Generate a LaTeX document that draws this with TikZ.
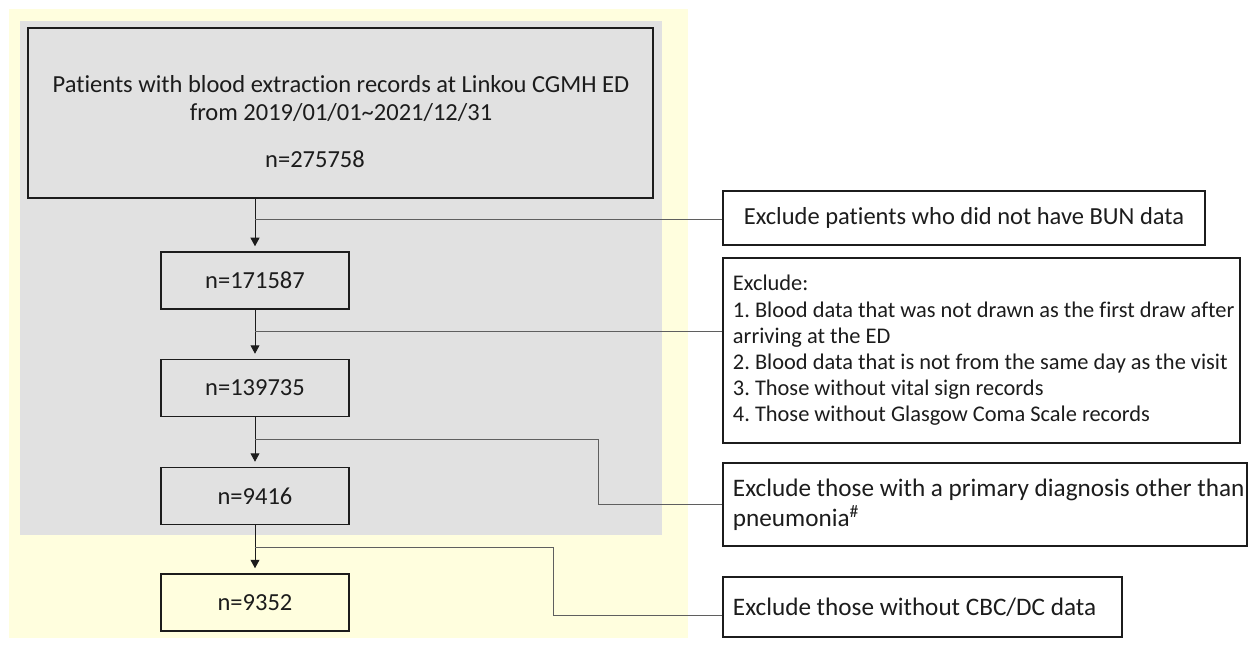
\documentclass[tikz,border=0pt]{standalone}
\usepackage{fontspec}
\setmainfont{Carlito}[Ligatures=NoCommon]
\frenchspacing
\usetikzlibrary{arrows.meta}
\definecolor{panelyellow}{RGB}{255,254,222}
\definecolor{panelgray}{RGB}{225,225,225}
\definecolor{branchgray}{RGB}{95,95,95}
\definecolor{inkcol}{RGB}{28,28,28}
\begin{document}
\begin{tikzpicture}[x=1pt,y=-1pt,
  bigfont/.style={font=\fontsize{24.5}{30}\selectfont},
  exfont/.style={font=\fontsize{25.2}{30}\selectfont},
  smallfont/.style={font=\fontsize{22.4}{26.2}\selectfont},
  box/.style={draw=inkcol, line width=1.5pt, text=inkcol, inner sep=0pt},
  countbox/.style={box, bigfont, minimum width=188pt, minimum height=57pt},
  plain/.style={inner sep=0pt, text=inkcol, bigfont},
  extext/.style={anchor=west, align=left, inner sep=0pt, text=inkcol, xshift=10.5pt},
  flow/.style={draw=inkcol, line width=1pt, -{Triangle[length=8.5pt,width=9pt]}, shorten >=5pt},
  branch/.style={draw=branchgray, line width=1pt}]
  % page frame and shaded panels
  \useasboundingbox (0,0) rectangle (1248,647);
  \fill[white] (0,0) rectangle (1248,647);
  \fill[panelyellow] (9,9) rectangle (688,638);
  \fill[panelgray] (20,21) rectangle (662,535);

  % source population
  \node[box, minimum width=625pt, minimum height=170pt] (top) at (340.5,113) {};
  \node[plain, anchor=base] (topl1) at (341,93)
    {Patients with blood extraction records at Linkou CGMH ED};
  \node[plain, anchor=base] (topl2) at (341,121)
    {from 2019/01/01\textasciitilde2021/12/31};
  \node[plain, anchor=base] (n0) at (315,168) {n=275758};

  % remaining counts
  \node[countbox] (c1) at (255,280.5) {n=171587};
  \node[countbox] (c2) at (255,388) {n=139735};
  \node[countbox] (c3) at (255,496) {n=9416};
  \node[countbox] (c4) at (255,602.5) {n=9352};

  % exclusion criteria
  \node[box, bigfont, minimum width=482pt, minimum height=54pt] (ex1) at (964,218)
    {Exclude patients who did not have BUN data};

  \node[box, minimum width=517pt, minimum height=185pt] (ex2) at (981.5,350.5) {};
  \node[extext, smallfont] (ex2t) at (ex2.west)
    {Exclude:\\
     1. Blood data that was not drawn as the first draw after\\
     arriving at the ED\\
     2. Blood data that is not from the same day as the visit\\
     3. Those without vital sign records\\
     4. Those without Glasgow Coma Scale records};

  \node[box, minimum width=524pt, minimum height=83pt] (ex3) at (985,504.5) {};
  \node[extext, exfont] (ex3t) at (ex3.west)
    {Exclude those with a primary diagnosis other than\\
     pneumonia\textsuperscript{\#}};

  \node[box, minimum width=399pt, minimum height=60pt] (ex4) at (922.5,607) {};
  \node[extext, exfont] (ex4t) at (ex4.west) {Exclude those without CBC/DC data};

  % main flow
  \draw[flow] (top.south -| c1.north) -- (c1.north);
  \draw[flow] (c1.south) -- (c2.north);
  \draw[flow] (c2.south) -- (c3.north);
  \draw[flow] (c3.south) -- (c4.north);

  % branches to the exclusion boxes
  \coordinate (j1) at (255,220);
  \coordinate (j2) at (255,331);
  \coordinate (j3) at (255,439);
  \coordinate (k3) at (598,439);
  \coordinate (j4) at (255,547);
  \coordinate (k4) at (553,547);
  \coordinate (m4) at (553,615);
  \draw[branch] (j1) -- (j1 -| ex1.west);
  \draw[branch] (j2) -- (j2 -| ex2.west);
  \draw[branch] (j3) -- (k3) |- (ex3.west);
  \draw[branch] (j4) -- (k4) -- (m4) -- (m4 -| ex4.west);
\end{tikzpicture}
\end{document}
